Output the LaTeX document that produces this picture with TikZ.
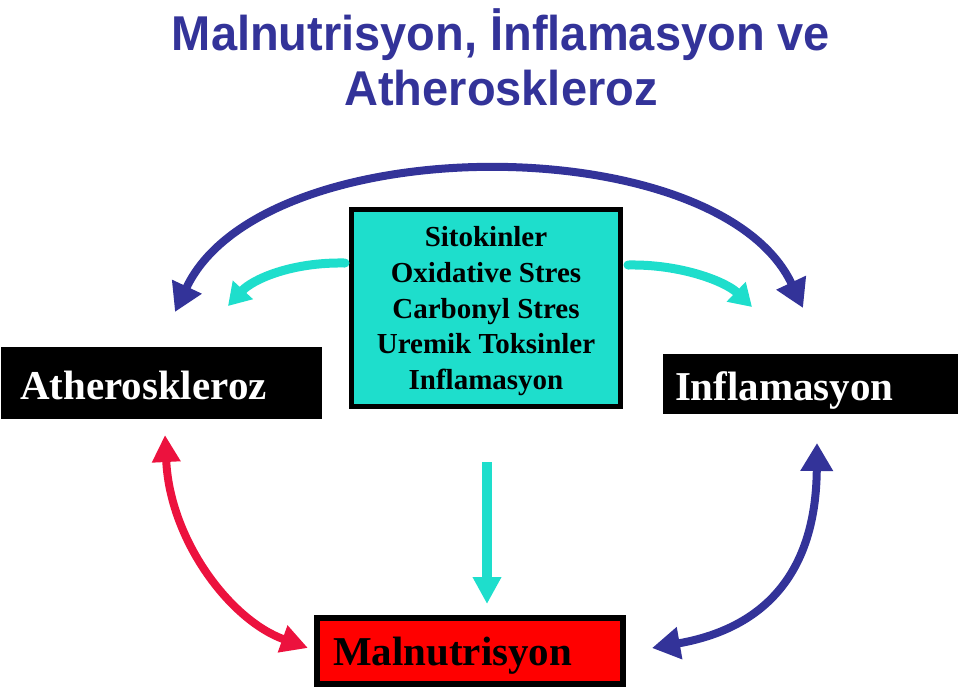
\documentclass[tikz,border=0pt]{standalone}
\usepackage{fontspec}
\setmainfont{Liberation Serif}
\newfontfamily\titlefont{Liberation Sans}
\usetikzlibrary{arrows.meta}
\definecolor{tblue}{RGB}{51,51,153}
\definecolor{acyan}{RGB}{30,222,204}
\definecolor{ared}{RGB}{236,18,62}
\definecolor{bred}{RGB}{255,0,0}
\begin{document}
\begin{tikzpicture}[x=1pt,y=-1pt,
  titletext/.style={font=\titlefont\bfseries\fontsize{47}{56}\selectfont, text=tblue, inner sep=0pt, anchor=base},
  blackbox/.style={fill=black, text=white, font=\bfseries\fontsize{41}{49}\selectfont, align=left,
    inner ysep=0pt, text height=32pt, text depth=0pt, minimum height=#1},
  blackbox/.default=72pt,
  causebox/.style={draw=black, line width=5pt, fill=acyan, text=black, align=center,
    font=\bfseries\fontsize{29}{35.8}\selectfont, minimum width=269pt, minimum height=197pt, inner sep=0pt,
    text depth=-4pt},
  malbox/.style={draw=black, line width=6pt, fill=bred, text=black, align=left,
    font=\bfseries\fontsize{41}{49}\selectfont, inner ysep=0pt, inner xsep=16pt, text width=274pt,
    text height=28pt, text depth=0pt, minimum height=66pt},
  bluearc/.style={draw=tblue, line width=8pt, {Triangle[length=28pt,width=31pt]}-{Triangle[length=28pt,width=31pt]}},
  redarc/.style={draw=ared, line width=8pt, {Triangle[length=27pt,width=27pt]}-{Triangle[length=27pt,width=27pt]}},
  cyanarc/.style={draw=acyan, line width=9pt, line cap=round, -{Triangle[length=22pt,width=26pt]}},
  cyandown/.style={draw=acyan, line width=10pt, -{Triangle[length=27pt,width=27pt]}}
]
\useasboundingbox (0,0) rectangle (960,689);

% title
\node[titletext] (title1) at (501,50) {\scalebox{1}[1.04]{Malnutrisyon, İnflamasyon ve}};
\node[titletext] (title2) at (501,105) {\scalebox{1}[1.04]{Atheroskleroz}};

% boxes
\node[blackbox, inner xsep=19pt, text width=283pt] (athero) at (161.5,383) {Atheroskleroz};
\node[blackbox=60pt, inner xsep=12pt, text width=271pt] (infl) at (810.5,384) {Inflamasyon};
\node[causebox] (causes) at (486,308) {Sitokinler\\Oxidative Stres\\Carbonyl Stres\\Uremik Toksinler\\Inflamasyon};
\node[malbox] (maln) at (470,651) {Malnutrisyon};

% arrow end points
\coordinate (topL) at (175,312);
\coordinate (topR) at (803,308);
\coordinate (cLs) at (345,263);
\coordinate (cLe) at (228,306);
\coordinate (cRs) at (628,265);
\coordinate (cRe) at (752,307);
\coordinate (cDs) at (487,462);
\coordinate (cDe) at (487,604);
\coordinate (redT) at (165,435);
\coordinate (redB) at (308,648);
\coordinate (bluT) at (817,443);
\coordinate (bluB) at (652,648);

% connectors
\draw[bluearc] (topL) .. controls (262,127) and (718,127) .. (topR);
\draw[cyanarc] (cLs) .. controls (290,262) and (252,280) .. (cLe);
\draw[cyanarc] (cRs) .. controls (682,264) and (726,282) .. (cRe);
\draw[cyandown] (cDs) -- (cDe);
\draw[redarc] (redT) .. controls (170,540) and (230,620) .. (redB);
\draw[bluearc] (bluT) .. controls (816,565) and (772,627) .. (bluB);
\end{tikzpicture}
\end{document}
